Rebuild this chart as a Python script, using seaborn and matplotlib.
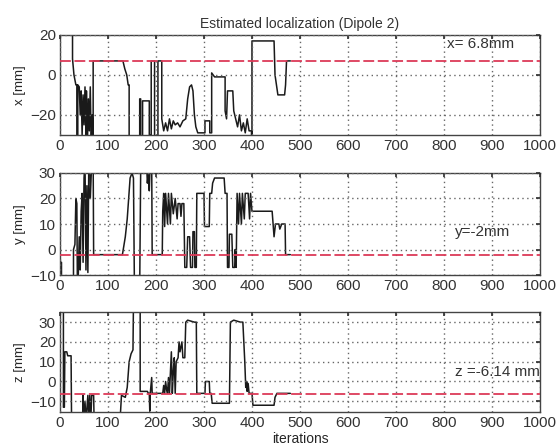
import matplotlib
matplotlib.use("Agg")
import matplotlib.pyplot as plt
import seaborn as sns

# estimated x position (iteration, mm)
x_it = [0, 26, 26, 29, 33, 35, 35, 37, 37, 40, 42, 44, 46, 48, 50, 52, 54, 55, 57, 59, 61, 63, 65, 67, 69, 69,
        131, 135, 139, 142, 144, 144, 166, 166, 168, 168, 172, 172, 186, 186, 190, 190, 197, 197, 204, 204, 212,
        212, 216, 220, 224, 228, 232, 236, 240, 245, 250, 256, 262, 266, 270, 274, 277, 280, 283, 287, 302, 302,
        312, 312, 316, 316, 322, 344, 344, 347, 349, 360, 362, 366, 370, 374, 378, 382, 386, 390, 394, 399, 399,
        400, 400, 446, 448, 451, 454, 468, 470, 472, 480]
x_val = [40, 40, 8, 0, -5, -5, -35, -35, -5, -6, -20, -8, -30, -10, -25, -6, -30, -8, -35, -12, -28, -6, -35, -20,
         -35, 7, 7, 3, 0, -5, -5, -35, -35, -12, -12, -35, -35, -13, -13, -30, -30, 7, 7, -35, -35, 7, 7, -22, -28,
         -24, -28, -22, -27, -23, -25, -24, -26, -23, -22, -12, -6, -5, -8, -20, -26, -29, -29, -23, -23, -29, -29,
         1, -1, -1, -18, -22, -8, -8, -18, -22, -26, -20, -28, -24, -29, -22, -28, -28, -30, -30, 17, 17, 0, -5,
         -10, -10, -5, 7, 7]

# estimated y position
y_it = [0, 3, 3, 28, 28, 31, 33, 35, 36, 38, 40, 42, 44, 46, 48, 50, 52, 54, 56, 58, 60, 63, 63, 66, 69, 70, 130,
        136, 140, 143, 146, 150, 153, 155, 166, 168, 170, 180, 182, 184, 186, 188, 191, 192, 213, 214, 216, 218,
        220, 224, 226, 230, 232, 236, 240, 244, 246, 250, 252, 254, 258, 260, 264, 266, 270, 272, 276, 277, 280,
        281, 284, 285, 300, 301, 311, 312, 316, 318, 322, 342, 344, 348, 349, 352, 353, 358, 360, 364, 365, 367,
        369, 372, 374, 378, 380, 384, 386, 392, 395, 397, 400, 442, 446, 449, 456, 458, 462, 469, 470, 480]
y_val = [-5, -5, -15, -15, 0, 2, 20, 18, -10, -10, 5, -8, 15, 22, -5, 28, 35, -8, 25, -9, 35, 35, 20, 35, 35, -2,
         -2, 5, 12, 20, 28, 30, 28, -15, -15, 30, 35, 35, 26, 30, 23, 35, 35, -2, -2, 15, 22, 9, 22, 10, 22, 10, 22,
         14, 20, 12, 18, 18, 13, 18, 18, -7, -7, 5, 5, -7, -7, 7, 7, -7, -7, 22, 22, 9, 9, 22, 22, 26, 28, 28, 22,
         22, -7, -7, 6, 6, -7, -7, 0, -7, 22, 10, 22, 10, 22, 12, 22, 22, 12, 22, 15, 15, 5, 10, 10, 8, 10, 10, -2,
         -2]

# estimated z position
z_it = [0, 7, 7, 9, 10, 14, 16, 23, 24, 47, 48, 49, 52, 54, 58, 60, 62, 64, 66, 70, 71, 125, 128, 136, 140, 144,
        148, 152, 153, 167, 167, 182, 184, 186, 187, 188, 191, 192, 214, 216, 218, 220, 222, 224, 226, 228, 232,
        234, 236, 238, 240, 242, 246, 248, 250, 254, 256, 260, 262, 266, 280, 284, 285, 302, 303, 311, 312, 315,
        317, 353, 355, 362, 376, 381, 383, 385, 387, 389, 390, 392, 394, 400, 402, 446, 448, 452, 480]
z_val = [40, 40, -13, -13, 15, 15, 13, 13, -20, -20, -7, -20, -10, -20, -7, -20, -7, -20, -7, -7, -20, -20, -7, -8,
         -3, 10, 14, 16, 40, 40, -5, -5, -6, -6, -15, -6, 2, -6, -6, -2, -6, 0, -4, -6, 2, -6, 15, -6, 5, 12, -6,
         10, 12, 20, 15, 20, 12, 12, 30, 31, 30, 30, -6, -6, 0, 0, -6, -6, -11, -11, 30, 31, 30, 30, 20, 10, -3, 0,
         -5, -1, -6, -6, -12, -12, -8, -6, -6]

true_vals = [6.8, -2, -6.14]
labels = ["x [mm]", "y [mm]", "z [mm]"]
notes = ["x= 6.8mm", "y=-2mm", "z =-6.14 mm"]
note_pos = [(806, 15.5), (823, 6.9), (823, 4.7)]
ylims = [(-30, 20), (-10, 30), (-15.5, 35)]
yticks = [[-20, 0, 20], [-10, 0, 10, 20, 30], [-10, 0, 10, 20, 30]]

sns.set_theme(style="white")
plt.rcParams["font.family"] = ["Liberation Sans", "DejaVu Sans"]
plt.rcParams["text.color"] = "#333333"
plt.rcParams["xtick.color"] = "#333333"
plt.rcParams["ytick.color"] = "#333333"

fig = plt.figure(figsize=(5.56, 4.48), dpi=100)
boxes = [[0.108, 0.699, 0.863, 0.223], [0.108, 0.386, 0.863, 0.228], [0.108, 0.080, 0.863, 0.223]]
series = [(x_it, x_val), (y_it, y_val), (z_it, z_val)]

for i in range(3):
    ax = fig.add_axes(boxes[i])
    its, vals = series[i]
    sns.lineplot(x=its, y=vals, ax=ax, color="#1a1a1a", lw=1.1, sort=False, estimator=None, zorder=2)
    ax.axhline(true_vals[i], color="#dc3a58", lw=1.3, dashes=(6, 2), zorder=3)
    ax.set_xlim(0, 1000)
    ax.set_ylim(*ylims[i])
    ax.set_xticks(range(0, 1001, 100))
    ax.set_yticks(yticks[i])
    ax.grid(True, ls=(0, (1, 2.5)), color="#666666", lw=1.0)
    ax.set_axisbelow(False)
    ax.tick_params(direction="in", length=3, top=True, right=True, labelsize=11, pad=3,
                   color="#333333")
    for s in ax.spines.values():
        s.set_color("#444444")
        s.set_linewidth(1.0)
    ax.set_ylabel(labels[i], fontsize=9.5, labelpad=3)
    ax.text(note_pos[i][0], note_pos[i][1], notes[i], fontsize=11, va="center", ha="left", zorder=1)
    if i == 0:
        ax.set_title("Estimated localization (Dipole 2)", fontsize=10, pad=5)
    if i == 2:
        ax.set_xlabel("iterations", fontsize=10, labelpad=1)

fig.savefig("out.png", dpi=100)
